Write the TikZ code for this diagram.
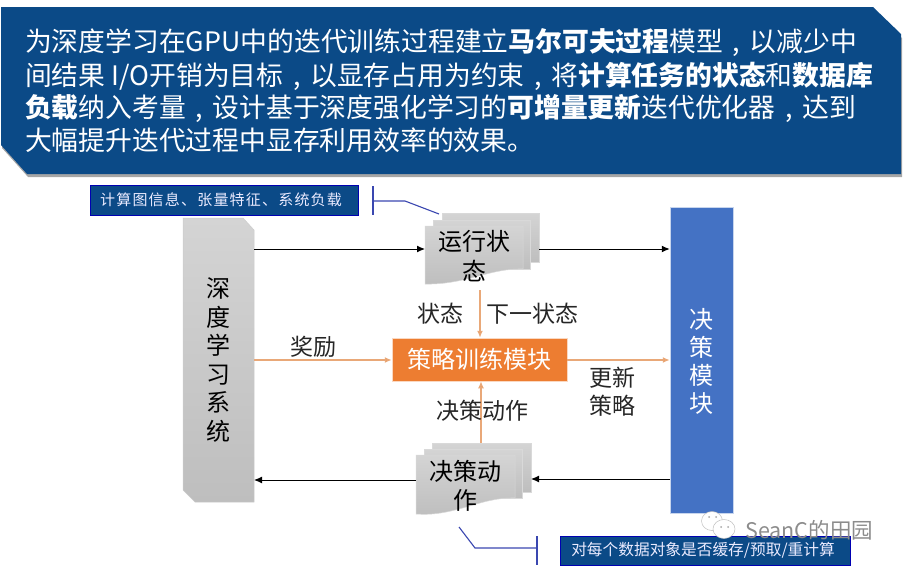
\documentclass[tikz,border=0pt]{standalone}
\usepackage{fontspec}
\setmainfont{Noto Sans CJK SC}
\usetikzlibrary{arrows.meta,shadings}
\definecolor{bannerblue}{HTML}{0B4A87}
\definecolor{calloutline}{HTML}{3A47B0}
\definecolor{docgrayA}{HTML}{D4D4D4}
\definecolor{docgrayB}{HTML}{BEBEBE}
\definecolor{decblue}{HTML}{4472C4}
\definecolor{trainorange}{HTML}{ED7D31}
\definecolor{arroworange}{HTML}{E9A878}
\newcommand{\fs}[1]{\fontsize{#1}{#1}\selectfont}
\newcommand{\zc}{\hspace{.36em}\symbol{"2C}\hspace{.36em}}
\tikzset{
  x=1pt,y=-1pt,
  bannertxt/.style={anchor=west,inner sep=0,text=white,font=\fs{26.8}},
  callbox/.style={draw=blue!70!black,line width=1pt,fill=bannerblue,text=white!92!blue,inner sep=0,font=\fs{15}},
  callline/.style={draw=calloutline,line width=1.1pt},
  blackarrow/.style={draw=black,line width=1pt,-{Latex[length=8pt,width=7pt]}},
  orangearrow/.style={draw=arroworange,line width=1.4pt,-{Latex[length=7pt,width=6pt,fill=trainorange]}},
  lab/.style={inner sep=0,text=black!85,font=\fs{23}},
  doc/.style={draw=white!85!black,line width=.5pt,top color=docgrayA,bottom color=docgrayB},
  vtxt/.style={inner sep=0,align=center,font=\fs{24}},
}
\begin{document}
\begin{tikzpicture}
\useasboundingbox (0,0) rectangle (903,570);
% banner
\fill[black!35] (2,11)--(874,11)--(902,38)--(902,177)--(28,177)--(2,148)--cycle;
\fill[bannerblue] (1,7)--(873,7)--(901,34)--(901,174)--(27,174)--(1,145)--cycle;
\node[bannertxt] (l1) at (25,43) {为深度学习在GPU中的迭代训练过程建立\textbf{马尔可夫过程}模型\zc 以减少中};
\node[bannertxt] (l2) at (25,76) {间结果 I/O开销为目标\zc 以显存占用为约束\zc 将\textbf{计算任务的状态}和\textbf{数据库}};
\node[bannertxt] (l3) at (25,108) {\textbf{负载}纳入考量\zc 设计基于深度强化学习的\textbf{可增量更新}迭代优化器\zc 达到};
\node[bannertxt] (l4) at (25,140) {大幅提升迭代过程中显存利用效率的效果。};
% main blocks
\path[doc,draw=white!80!black] (183,218)--(243,218)--(254,230)--(254,502)--(195,502)--(183,490)--cycle;
\coordinate (sysE1) at (254,249);
\coordinate (sysE2) at (254,360);
\coordinate (sysE3) at (254,480);
\node[vtxt] (sys) at (218,360) {深\\[4.5pt]度\\[4.5pt]学\\[4.5pt]习\\[4.5pt]系\\[4.5pt]统};
\node[fill=decblue,draw=white!70!decblue,line width=.5pt,minimum width=63pt,minimum height=306pt,inner sep=0] (dec) at (701.5,360) {};
\node[vtxt,text=white] (dect) at (701,361) {决\\[4pt]策\\[4pt]模\\[4pt]块};
\node[fill=trainorange,draw=white!70!trainorange,line width=.5pt,minimum width=175pt,minimum height=43pt,inner sep=0,text=white,font=\fs{24}] (train) at (479.5,359.5) {策略训练模块};
% state document
\path[doc] (442,213) rectangle (539,262);
\path[doc] (433,220) rectangle (530,269);
\path[doc] (425,226)--(523,226)--(523,269) .. controls (490,268) and (465,285) .. (425,284)--cycle;
\node[inner sep=0,align=center,font=\fs{24}] (st) at (474,256) {运行状\\[6pt]态};
\coordinate (stW) at (425,249);
\coordinate (stE) at (539,249);
\coordinate (stS) at (480,290);
% action document
\path[doc] (432,443) rectangle (531,492);
\path[doc] (424,449) rectangle (522,498);
\path[doc] (416,455)--(515,455)--(515,498) .. controls (480,497) and (455,517) .. (416,514)--cycle;
\node[inner sep=0,align=center,font=\fs{24}] (ac) at (465,485.5) {决策动\\[5pt]作};
\coordinate (acW) at (416,480);
\coordinate (acE) at (531,479);
\coordinate (acN) at (481,443);
% connectors
\draw[blackarrow] (sysE1)--(stW);
\draw[blackarrow] (stE)--(dec.west|-stE);
\draw[blackarrow] (dec.west|-acE)--(acE);
\draw[blackarrow] (acW)--(sysE3);
\draw[orangearrow] (sysE2)--(train.west|-sysE2);
\draw[orangearrow] (train.east|-sysE2)--(dec.west|-sysE2);
\draw[orangearrow] (stS)--(train.north-|stS);
\draw[orangearrow] (acN)--(train.south-|acN);
% labels
\node[lab] (a) at (440,314) {状态};
\node[lab] (b) at (532,314) {下一状态};
\node[lab] (c) at (313,347) {奖励};
\node[lab,align=center] (d) at (612,392) {更新\\[5pt]策略};
\node[lab,fill=none] (e) at (482,411) {决策动作};
% callouts
\node[callbox,minimum width=268pt,minimum height=30pt] (cb1) at (224,200) {\hspace*{-6pt}\addfontfeature{LetterSpace=8}计算图信息、张量特征、系统负载};
\coordinate (b1t) at (373,186);
\coordinate (b1b) at (373,215);
\coordinate (b1m) at (373,201);
\coordinate (b1k) at (405,201);
\coordinate (b1e) at (439,214);
\draw[callline] (b1t)--(b1b);
\draw[callline] (b1m)--(b1k)--(b1e);
\node[callbox,minimum width=290pt,minimum height=29pt,font=\fs{15.7}] (cb2) at (705,550.5) {\hspace*{-4pt}对每个数据对象是否缓存/预取/重计算};
\coordinate (b2t) at (537,536);
\coordinate (b2b) at (537,565);
\coordinate (b2m) at (537,548);
\coordinate (b2k) at (475,548);
\coordinate (b2e) at (459,527);
\draw[callline] (b2t)--(b2b);
\draw[callline] (b2m)--(b2k)--(b2e);
% watermark
\fill[white,draw=black!25,line width=.5pt] (712,521) ellipse (10.5pt and 9.5pt);
\fill[white,draw=black!25,line width=.5pt] (724,529) ellipse (11pt and 9.5pt);
\fill[black!35] (709,517) circle (1pt) (716,517) circle (1pt) (721,527) circle (1pt) (728,527) circle (1pt);
\node[inner sep=0,anchor=west,text=black!45,font=\fs{21.5}] (wm) at (745,530) {SeanC的田园};
\end{tikzpicture}
\end{document}
